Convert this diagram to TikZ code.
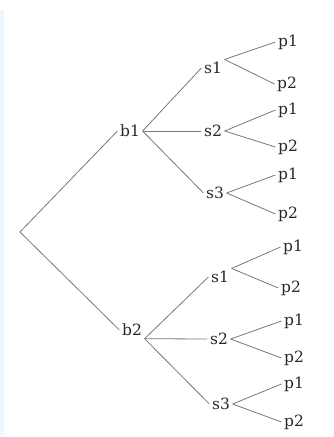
\documentclass[tikz,border=0pt]{standalone}
\usepackage{fontspec}
\newfontfamily\treefont{DejaVu Serif}
\usepackage{xcolor}
\definecolor{treegray}{RGB}{120,120,120}
\definecolor{labelgray}{RGB}{40,40,40}
\definecolor{stripblue}{RGB}{237,245,255}
\usetikzlibrary{positioning}

\tikzset{
  lbl/.style={font=\treefont\fontsize{15.5}{18}\selectfont, text=labelgray, inner sep=2.5pt},
  branch/.style={treegray, line width=0.8pt},
}

\begin{document}
\begin{tikzpicture}[x=1pt, y=-1pt]
  \useasboundingbox (0,0) rectangle (333,437);
  % Left edge strip
  \fill[stripblue] (0,10) rectangle (4,435);

  % Root
  \coordinate (root) at (20,232);

  % Upper half: b1
  \node[lbl] (b1) at (130,131) {b1};
  \draw[branch] (root) -- (b1.west);
  \node[lbl] (s11) at (213,68) {s1};
  \node[lbl] (s12) at (213,131) {s2};
  \node[lbl] (s13) at (215,193) {s3};
  \draw[branch] (b1.east) -- (s11.west);
  \draw[branch] (b1.east) -- (s12.west);
  \draw[branch] (b1.east) -- (s13.west);
  % Leaves of b1
  \node[lbl] (p111) at (288,42) {p1};
  \node[lbl] (p112) at (287,84) {p2};
  \node[lbl] (p121) at (288,110) {p1};
  \node[lbl] (p122) at (288,147) {p2};
  \node[lbl] (p131) at (288,175) {p1};
  \node[lbl] (p132) at (288,214) {p2};
  \draw[branch] (s11.north east) -- (p111.west);
  \draw[branch] (s11.north east) -- (p112.west);
  \draw[branch] (s12.east) -- (p121.west);
  \draw[branch] (s12.east) -- (p122.west);
  \draw[branch] (s13.east) -- (p131.west);
  \draw[branch] (s13.east) -- (p132.west);

  % Lower half: b2
  \node[lbl] (b2) at (132,330) {b2};
  \draw[branch] (root) -- (b2.west);
  \node[lbl] (s21) at (220,277) {s1};
  \node[lbl] (s22) at (219,339) {s2};
  \node[lbl] (s23) at (221,404) {s3};
  \draw[branch] (b2.south east) -- (s21.west);
  \draw[branch] (b2.south east) -- (s22.west);
  \draw[branch] (b2.south east) -- (s23.west);
  % Leaves of b2
  \node[lbl] (p211) at (293,247) {p1};
  \node[lbl] (p212) at (291,288) {p2};
  \node[lbl] (p221) at (294,321) {p1};
  \node[lbl] (p222) at (294,358) {p2};
  \node[lbl] (p231) at (294,384) {p1};
  \node[lbl] (p232) at (294,422) {p2};
  \draw[branch] (s21.north east) -- (p211.west);
  \draw[branch] (s21.north east) -- (p212.west);
  \draw[branch] (s22.east) -- (p221.west);
  \draw[branch] (s22.east) -- (p222.west);
  \draw[branch] (s23.east) -- (p231.west);
  \draw[branch] (s23.east) -- (p232.west);
\end{tikzpicture}
\end{document}
